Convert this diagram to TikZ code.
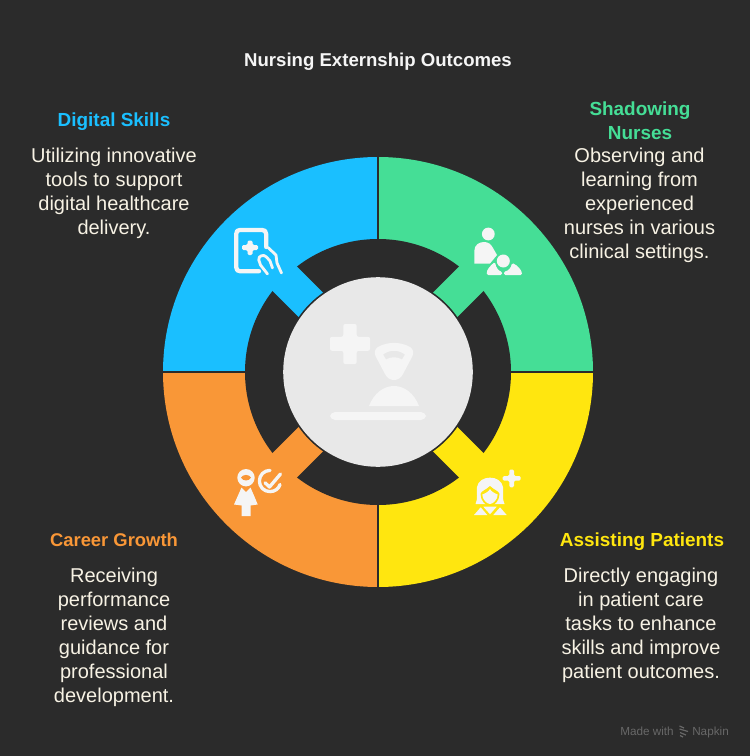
\documentclass[tikz,border=0pt]{standalone}
\usepackage{fontspec}
\setmainfont{Liberation Sans}
\definecolor{bgc}{HTML}{2B2B2B}
\definecolor{cblue}{HTML}{1ABFFF}
\definecolor{cgreen}{HTML}{45DE96}
\definecolor{cyellow}{HTML}{FFE60F}
\definecolor{corange}{HTML}{F99737}
\definecolor{ctext}{HTML}{F7F2E4}
\definecolor{cicon}{HTML}{F5F5F5}
\definecolor{chub}{HTML}{E8E8E8}
\definecolor{cmark}{HTML}{686868}
\tikzset{
  x=.75pt,y=-.75pt,
  head/.style={font=\bfseries\fontsize{14.2}{18}\selectfont,align=center,inner sep=0pt},
  bodytext/.style={text=ctext,font=\fontsize{15}{18}\selectfont,align=center,inner sep=0pt},
  marktext/.style={text=cmark,font=\fontsize{8.8}{10}\selectfont,inner sep=0pt,anchor=base west},
  iconf/.style={fill=cicon,draw=none},
  icons/.style={draw=cicon,line width=2.5pt,line cap=round,line join=round},
}
\newcommand{\quadr}[5]{%
  \begin{scope}
    \clip (#2,#3) rectangle (#4,#5);
    \fill[#1] (378,372) circle (215);
  \end{scope}}
\newcommand{\tabrect}[2]{\fill[#1,shift={(378,372)},rotate=#2] (-17.2,-88) rectangle (17.2,-135);}
\begin{document}
\begin{tikzpicture}
\useasboundingbox (0,0) rectangle (750,756);
\fill[bgc] (0,0) rectangle (750,756);
\quadr{cblue}{150}{150}{378}{372}
\quadr{cgreen}{378}{150}{600}{372}
\quadr{cyellow}{378}{372}{600}{600}
\quadr{corange}{150}{372}{378}{600}
\fill[bgc] (378,372) circle (133);
\draw[bgc,line width=1.3pt] (378,150) -- (378,600) (150,372) -- (600,372);
\tabrect{cblue}{45}
\tabrect{cgreen}{-45}
\tabrect{cyellow}{-135}
\tabrect{corange}{135}
\fill[bgc] (378,372) circle (96.5);
\fill[chub] (378,372) circle (94.8);
% hub icon
\fill[iconf,rounded corners=1.5pt] (343.3,324) -- (356.7,324) -- (356.7,336.8) -- (370,336.8) -- (370,350.8) -- (356.7,350.8) -- (356.7,364) -- (343.3,364) -- (343.3,350.8) -- (330,350.8) -- (330,336.8) -- (343.3,336.8) -- cycle;
\fill[iconf,even odd rule] (375.5,356) .. controls (374,352) and (375,349) .. (378,347) .. controls (388,341.5) and (400,341.5) .. (410,347) .. controls (413,349) and (414,352) .. (412.5,356) -- (403,374) .. controls (399,382) and (389,382) .. (385,374) -- cycle
 (383,354.5) .. controls (390,349.5) and (398,349.5) .. (405,354.5) -- (402,359.5) .. controls (397,356.5) and (391,356.5) .. (386,359.5) -- cycle;
\fill[iconf] (369,406) .. controls (374,393) and (384,386) .. (394,386) .. controls (404,386) and (414,393) .. (419,406) -- cycle;
\fill[iconf,rounded corners=3.8pt] (330,412) rectangle (426,420);
% digital skills icon
\draw[icons,line width=3.2pt] (266.2,247) -- (266.2,234) .. controls (266.2,231) and (264.5,230) .. (262,230) -- (240,230) .. controls (237.5,230) and (236.2,231) .. (236.2,234) -- (236.2,267) .. controls (236.2,270) and (237.5,271.2) .. (240,271.2) -- (259,271.2);
\fill[iconf,rounded corners=1pt] (247.5,240.5) -- (252.5,240.5) -- (252.5,245) -- (258,245) -- (258,250) -- (252.5,250) -- (252.5,255) -- (247.5,255) -- (247.5,250) -- (242,250) -- (242,245) -- (247.5,245) -- cycle;
\draw[icons,line width=2.1pt] (268,247.5) -- (276,255) -- (277,263) -- (281.5,273);
\draw[icons,line width=2.1pt] (267.5,274) -- (260.5,265) -- (258.8,260) .. controls (258,255.5) and (264,254) .. (266.5,257) -- (270,261) -- (272.5,268);
% shadowing nurses icon
\fill[iconf] (488.3,234) circle (6.4);
\fill[iconf] (474.3,263.5) -- (474.3,251) .. controls (474.3,245) and (479,242) .. (484,242) .. controls (488,242) and (491,244) .. (493,248) -- (497,255) -- (490,263.5) -- cycle;
\fill[iconf] (503.3,261) circle (6.5);
\fill[iconf,rounded corners=1pt] (487,275) .. controls (486,270) and (491,265) .. (495,262) .. controls (496,268) and (499,271) .. (502,271.5) -- (502,275) -- cycle;
\fill[iconf,rounded corners=1pt] (504,275) -- (504,271.5) .. controls (508,271) and (511,268) .. (512,263) .. controls (517,265) and (522,270) .. (522,275) -- cycle;
% assisting patients icon
\fill[iconf,rounded corners=1pt] (509.3,469.5) -- (514,469.5) -- (514,476) -- (520.7,476) -- (520.7,480.6) -- (514,480.6) -- (514,487.3) -- (509.3,487.3) -- (509.3,480.6) -- (502.7,480.6) -- (502.7,476) -- (509.3,476) -- cycle;
\fill[iconf] (475.5,504) .. controls (478,500) and (476.5,491) .. (477,487) .. controls (479,474.5) and (501,474.5) .. (503,487) .. controls (503.5,491) and (502,500) .. (504.5,504) -- cycle;
\fill[cyellow] (480.5,494) .. controls (481,491) and (486,490) .. (490,486) .. controls (494,490) and (499,491) .. (499.5,494) .. controls (499.5,501) and (494,506) .. (490,506) .. controls (486,506) and (480.5,501) .. (480.5,494) -- cycle;
\fill[iconf] (482.3,494.5) .. controls (485,493.5) and (489,491.5) .. (490,489) .. controls (491,491.5) and (495,493.5) .. (497.7,494.5) .. controls (497.7,499.5) and (493,504) .. (490,504) .. controls (487,504) and (482.3,499.5) .. (482.3,494.5) -- cycle;
\fill[iconf] (474,515) -- (480.7,507.3) -- (487.3,515) -- cycle;
\fill[iconf] (483.3,506.7) -- (496.7,506.7) -- (490,514.3) -- cycle;
\fill[iconf] (493.3,515) -- (500,507.3) -- (506.7,515) -- cycle;
% career growth icon
\fill[iconf] (246,477.7) circle (8.7);
\fill[corange] (241,477.7) .. controls (243,474) and (249,474) .. (251,477.7) .. controls (249,481.4) and (243,481.4) .. (241,477.7) -- cycle;
\fill[iconf] (241.5,487.5) -- (246,492) -- (250.5,487.5) .. controls (252,491) and (256,500) .. (257.7,504.5) -- (250.7,505.5) -- (250.7,516) -- (241.7,516) -- (241.7,505.5) -- (234,504.5) .. controls (236,500) and (240,491) .. (241.5,487.5) -- cycle;
\draw[icons,line width=2.5pt] (270,470.4) .. controls (264,470.4) and (259.4,475) .. (259.4,481) .. controls (259.4,487) and (264,491.6) .. (270,491.6) .. controls (275,491.6) and (279,488.5) .. (280,484.5);
\draw[icons,line width=2.5pt] (265,482.7) -- (269.5,487) -- (280.5,474);
% texts
\node[head,text=cicon,font=\bfseries\fontsize{13.95}{18}\selectfont] (title) at (378,61.8) {Nursing Externship Outcomes};
\node[head,text=cblue] (h1) at (114,122) {Digital Skills};
\node[bodytext] (b1) at (114,193.5) {Utilizing innovative\\tools to support\\digital healthcare\\delivery.};
\node[head,text=cgreen] (h2) at (640,120.5) {Shadowing\\Nurses};
\node[bodytext] (b2) at (639.5,205.5) {Observing and\\learning from\\experienced\\nurses in various\\clinical settings.};
\node[head,text=cyellow] (h3) at (642,541.5) {Assisting Patients};
\node[head,text=corange,font=\bfseries\fontsize{13.8}{18}\selectfont] (h4) at (114,540) {Career Growth};
\node[bodytext] (b3) at (641,625.5) {Directly engaging\\in patient care\\tasks to enhance\\skills and improve\\patient outcomes.};
\node[bodytext] (b4) at (114,637.5) {Receiving\\performance\\reviews and\\guidance for\\professional\\development.};
\node[marktext] (m1) at (620,735) {Made with};
\node[marktext] (m2) at (692,735) {Napkin};
\draw[cmark,line width=.9pt] (679.5,726) -- (684,728) (679.5,729) -- (688,731.5) (680,732.5) -- (686,735) (680,735.5) -- (683,737);
\end{tikzpicture}
\end{document}
